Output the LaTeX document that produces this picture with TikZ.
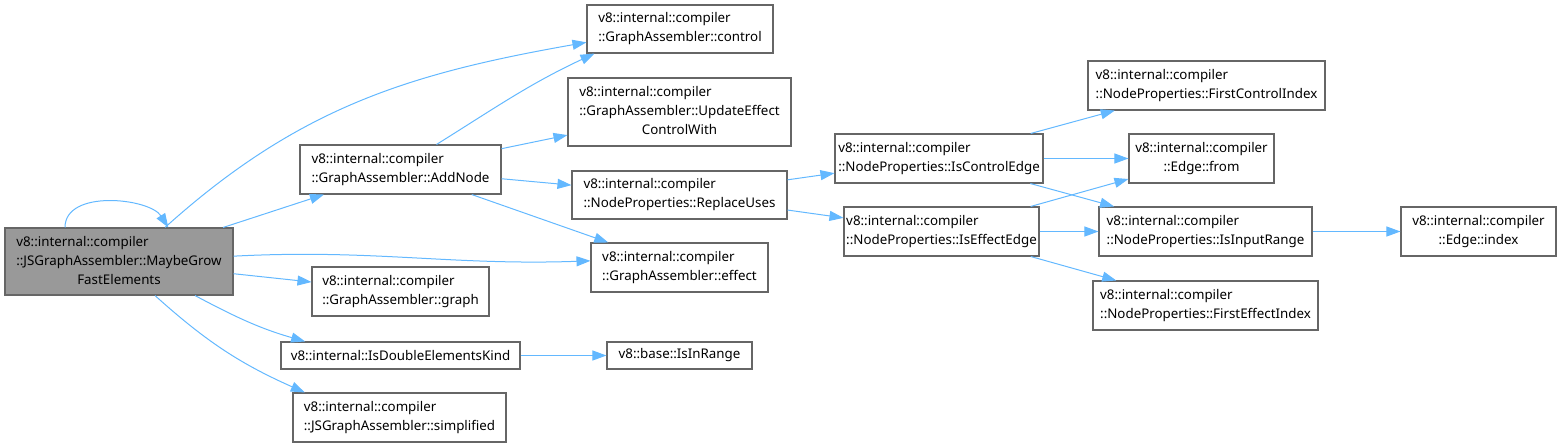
\documentclass[tikz,border=0pt]{standalone}
\usepackage{fontspec}
\setmainfont{Noto Sans}
\usetikzlibrary{arrows.meta}
\definecolor{edgeblue}{HTML}{63B8FF}
\definecolor{boxgray}{HTML}{666666}
\definecolor{mainfill}{HTML}{999999}

\begin{document}
\begin{tikzpicture}[x=0.75pt, y=-0.75pt]

% Define block styles
\tikzstyle{block} = [rectangle, draw=boxgray, line width=0.8pt, fill=white, align=left, inner sep=0pt, font=\fontsize{10pt}{14.25pt}\selectfont]
\tikzstyle{arrow} = [draw=edgeblue, line width=0.75pt, -{Triangle[length=10.5pt, width=7.5pt]}]

\useasboundingbox (0,0) rectangle (1562,447);

% Nodes
\node (grow) [block, fill=mainfill, minimum width=171pt, minimum height=50.25pt] at (119,261.5) {\begin{tabular}{@{}l@{}}v8::internal::compiler\\::JSGraphAssembler::MaybeGrow\\\multicolumn{1}{@{}c@{}}{FastElements}\end{tabular}};
\node (control) [block, minimum width=139.5pt, minimum height=36pt] at (680,29) {v8::internal::compiler\\::GraphAssembler::control};
\node (update) [block, minimum width=167.25pt, minimum height=51pt] at (679.5,112) {\begin{tabular}{@{}l@{}}v8::internal::compiler\\::GraphAssembler::UpdateEffect\\\multicolumn{1}{@{}c@{}}{ControlWith}\end{tabular}};
\node (addnode) [block, minimum width=150.75pt, minimum height=36.75pt] at (400.5,169.5) {v8::internal::compiler\\::GraphAssembler::AddNode};
\node (replace) [block, minimum width=161.25pt, minimum height=36pt] at (679.5,195) {v8::internal::compiler\\::NodeProperties::ReplaceUses};
\node (effect) [block, minimum width=132.75pt, minimum height=36.75pt] at (679.5,267.5) {v8::internal::compiler\\::GraphAssembler::effect};
\node (graph) [block, minimum width=132.75pt, minimum height=36.75pt] at (400.5,291.5) {v8::internal::compiler\\::GraphAssembler::graph};
\node (isdouble) [block, minimum width=179.25pt, minimum height=20.25pt] at (400.5,355.5) {v8::internal::IsDoubleElementsKind};
\node (inrange) [block, minimum width=108.75pt, minimum height=20.25pt] at (679.5,355.5) {v8::base::IsInRange};
\node (simplified) [block, minimum width=159.75pt, minimum height=36.75pt] at (399.5,417.5) {v8::internal::compiler\\::JSGraphAssembler::simplified};
\node (isctrl) [block, minimum width=156pt, minimum height=36.75pt] at (939,158.5) {v8::internal::compiler\\::NodeProperties::IsControlEdge};
\node (iseffect) [block, minimum width=146.25pt, minimum height=36.75pt] at (941.5,231.5) {v8::internal::compiler\\::NodeProperties::IsEffectEdge};
\node (firstctrl) [block, minimum width=177.75pt, minimum height=36.75pt] at (1206.5,85.5) {v8::internal::compiler\\::NodeProperties::FirstControlIndex};
\node (from) [block, align=center, minimum width=108.75pt, minimum height=36.75pt] at (1201.5,158.5) {v8::internal::compiler\\::Edge::from};
\node (inputrange) [block, minimum width=159.75pt, minimum height=36.75pt] at (1205.5,231.5) {v8::internal::compiler\\::NodeProperties::IsInputRange};
\node (firsteffect) [block, minimum width=168.75pt, minimum height=36.75pt] at (1205.5,305.5) {v8::internal::compiler\\::NodeProperties::FirstEffectIndex};
\node (index) [block, align=center, minimum width=116.25pt, minimum height=36.75pt] at (1478.5,231.5) {v8::internal::compiler\\::Edge::index};

% Arrows
\draw [arrow] ([xshift=-40.5pt]grow.north) .. controls +(0,29pt) and +(-14pt,22pt) .. ([xshift=37pt]grow.north);
\draw [arrow] ([xshift=34.5pt]grow.north) to[out=42, in=190] ([yshift=-10pt]control.west);
\draw [arrow] ([xshift=27pt]addnode.north) to[out=32, in=205] ([xshift=6pt]control.south west);
\draw [arrow] (grow) -- (addnode);
\draw [arrow] (addnode) -- (update);
\draw [arrow] (addnode) -- (replace);
\draw [arrow] (addnode) -- (effect);
\draw [arrow] ([yshift=4pt]grow.east) to[out=3, in=182] ([yshift=5pt]effect.west);
\draw [arrow] (grow) -- (graph);
\draw [arrow] ([xshift=57pt]grow.south) to[out=-28, in=164] ([xshift=-71.5pt]isdouble.north);
\draw [arrow] ([xshift=27pt]grow.south) to[out=-42, in=156] ([xshift=-71pt]simplified.north);
\draw [arrow] (isdouble) -- (inrange);
\draw [arrow] (replace) -- (isctrl);
\draw [arrow] (replace) -- (iseffect);
\draw [arrow] (isctrl) -- (firstctrl);
\draw [arrow] (isctrl) -- (from);
\draw [arrow] (isctrl) -- (inputrange);
\draw [arrow] (iseffect) -- (from);
\draw [arrow] (iseffect) -- (inputrange);
\draw [arrow] (iseffect) -- (firsteffect);
\draw [arrow] (inputrange) -- (index);

\end{tikzpicture}
\end{document}
